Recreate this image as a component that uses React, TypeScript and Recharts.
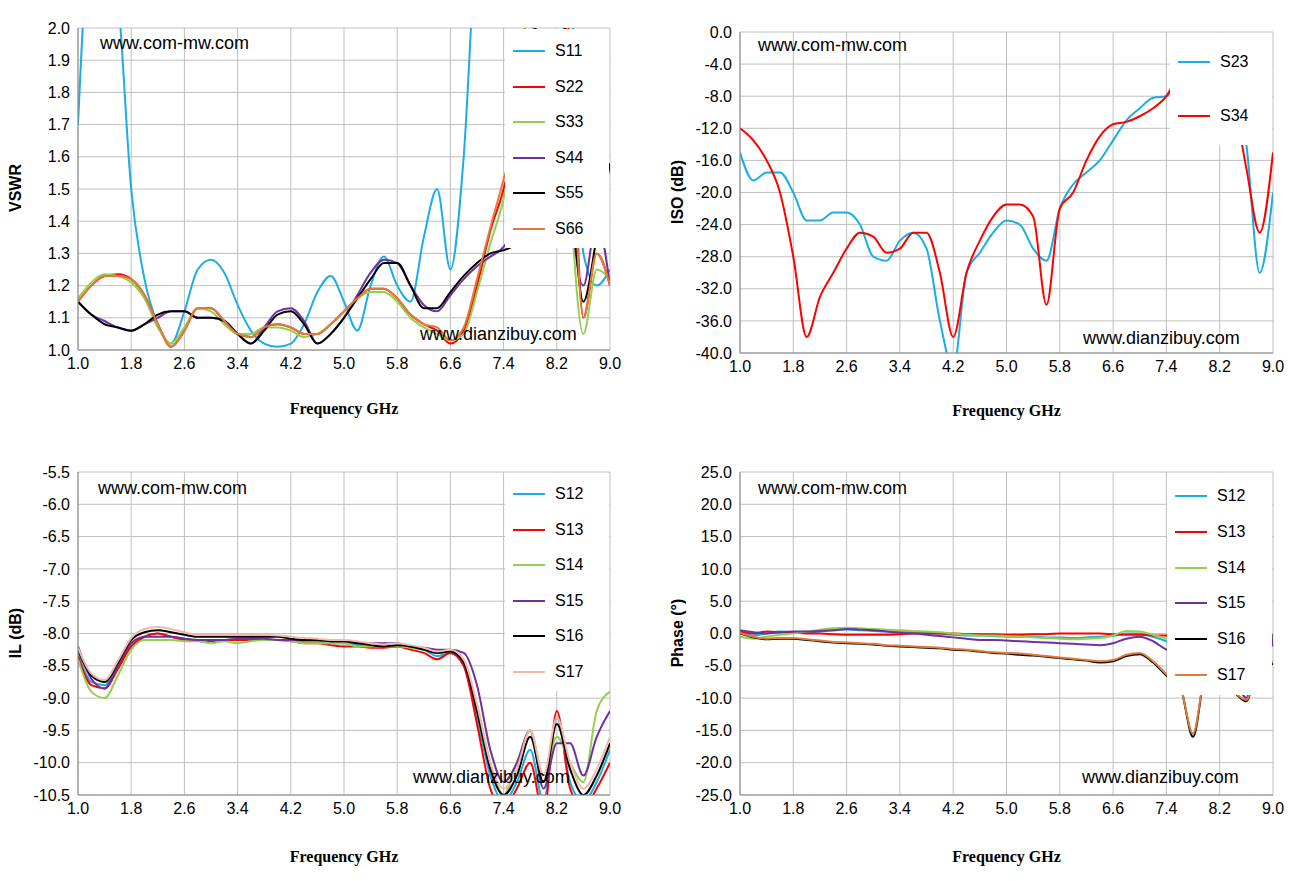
import { CartesianGrid, Line, LineChart, XAxis, YAxis } from 'recharts'

const freq = [1.0, 1.2, 1.4, 1.6, 1.8, 2.0, 2.2, 2.4, 2.6, 2.8, 3.0, 3.2, 3.4, 3.6, 3.8, 4.0, 4.2, 4.4, 4.6, 4.8, 5.0, 5.2, 5.4, 5.6, 5.8, 6.0, 6.2, 6.4, 6.6, 6.8, 7.0, 7.2, 7.4, 7.6, 7.8, 8.0, 8.2, 8.4, 8.6, 8.8, 9.0]
const freqTicks = [1.0, 1.8, 2.6, 3.4, 4.2, 5.0, 5.8, 6.6, 7.4, 8.2, 9.0]

// VSWR
const s11 = [1.7, 2.3, 2.3, 2.1, 1.5, 1.22, 1.08, 1.02, 1.12, 1.25, 1.28, 1.24, 1.14, 1.06, 1.02, 1.01, 1.02, 1.08, 1.18, 1.23, 1.15, 1.06, 1.2, 1.29, 1.2, 1.15, 1.35, 1.5, 1.25, 1.6, 2.3, 2.5, 2.5, 2.5, 2.5, 2.5, 2.5, 2.2, 1.3, 1.2, 1.25]
const s22 = [1.15, 1.2, 1.23, 1.235, 1.22, 1.17, 1.08, 1.01, 1.06, 1.13, 1.13, 1.09, 1.05, 1.04, 1.07, 1.08, 1.07, 1.05, 1.05, 1.08, 1.12, 1.16, 1.19, 1.19, 1.16, 1.11, 1.08, 1.06, 1.02, 1.06, 1.2, 1.37, 1.5, 1.7, 2.2, 2.5, 2.5, 1.9, 1.1, 1.3, 1.2]
const s33 = [1.16, 1.21, 1.235, 1.23, 1.21, 1.16, 1.07, 1.02, 1.07, 1.13, 1.12, 1.08, 1.05, 1.05, 1.07, 1.07, 1.06, 1.04, 1.05, 1.08, 1.12, 1.16, 1.18, 1.18, 1.15, 1.1, 1.07, 1.05, 1.03, 1.05, 1.18, 1.33, 1.47, 1.7, 2.2, 2.5, 2.5, 1.5, 1.05, 1.25, 1.22]
const s44 = [1.15, 1.11, 1.09, 1.07, 1.06, 1.08, 1.1, 1.12, 1.12, 1.1, 1.1, 1.09, 1.05, 1.02, 1.07, 1.12, 1.13, 1.09, 1.02, 1.05, 1.1, 1.17, 1.24, 1.28, 1.27, 1.2, 1.14, 1.12, 1.17, 1.22, 1.26, 1.29, 1.32, 1.4, 1.8, 2.5, 2.5, 1.5, 1.2, 1.4, 1.2]
const s55 = [1.15, 1.11, 1.08, 1.07, 1.06, 1.08, 1.11, 1.12, 1.12, 1.1, 1.1, 1.09, 1.05, 1.02, 1.06, 1.11, 1.12, 1.08, 1.02, 1.05, 1.1, 1.16, 1.22, 1.27, 1.27, 1.2, 1.13, 1.13, 1.18, 1.23, 1.27, 1.3, 1.31, 1.33, 1.6, 2.5, 2.5, 1.6, 1.15, 1.35, 1.58]
const s66 = [1.15, 1.2, 1.23, 1.23, 1.22, 1.17, 1.08, 1.01, 1.06, 1.13, 1.13, 1.09, 1.05, 1.04, 1.07, 1.08, 1.07, 1.05, 1.05, 1.08, 1.12, 1.16, 1.19, 1.19, 1.16, 1.11, 1.08, 1.07, 1.03, 1.07, 1.22, 1.38, 1.53, 1.7, 2.2, 2.5, 2.5, 1.8, 1.1, 1.3, 1.2]

// isolation
const s23 = [-15, -18.5, -17.5, -17.5, -20, -23.5, -23.5, -22.5, -22.5, -24, -28, -28.5, -26, -25, -27, -36, -42, -30, -27.5, -25, -23.5, -24, -27, -28.5, -22, -19, -17.5, -16, -13.5, -11, -9.5, -8.2, -8, -6, -4, -2, -2, -5, -14, -30, -20]
const s34 = [-12, -13.5, -16, -20, -28, -38, -33, -30, -27, -25, -25.5, -27.5, -27, -25, -25, -30, -38, -30, -26, -23, -21.5, -21.5, -23, -34, -22, -20, -16, -13, -11.5, -11.2, -10.5, -9.5, -8, -5, -3, -2, -3, -8, -17, -25, -15]

// insertion loss
const s12 = [-8.3, -8.75, -8.8, -8.5, -8.2, -8.05, -8.0, -8.05, -8.08, -8.1, -8.1, -8.1, -8.1, -8.08, -8.1, -8.1, -8.1, -8.12, -8.12, -8.15, -8.15, -8.18, -8.2, -8.2, -8.2, -8.22, -8.25, -8.35, -8.3, -8.5, -9.3, -10.2, -10.6, -10.3, -9.8, -10.6, -9.3, -10.3, -10.6, -10.3, -9.8]
const s13 = [-8.35, -8.8, -8.85, -8.55, -8.2, -8.05, -8.0, -8.05, -8.1, -8.1, -8.12, -8.1, -8.1, -8.1, -8.1, -8.1, -8.12, -8.15, -8.15, -8.18, -8.2, -8.2, -8.22, -8.22, -8.2, -8.25, -8.3, -8.4, -8.3, -8.5, -9.4, -10.4, -10.7, -10.4, -10.0, -10.8, -9.2, -10.4, -10.7, -10.4, -10.0]
const s14 = [-8.4, -8.9, -9.0, -8.65, -8.25, -8.1, -8.1, -8.1, -8.12, -8.12, -8.15, -8.12, -8.15, -8.12, -8.1, -8.1, -8.12, -8.15, -8.15, -8.15, -8.15, -8.2, -8.2, -8.2, -8.2, -8.22, -8.25, -8.3, -8.28, -8.45, -9.1, -10.0, -10.5, -10.0, -9.5, -10.2, -9.6, -10.0, -10.3, -9.2, -8.9]
const s15 = [-8.2, -8.7, -8.85, -8.5, -8.15, -8.05, -8.05, -8.05, -8.08, -8.1, -8.1, -8.1, -8.08, -8.08, -8.08, -8.1, -8.1, -8.1, -8.1, -8.12, -8.12, -8.15, -8.15, -8.15, -8.15, -8.2, -8.22, -8.25, -8.25, -8.3, -8.8, -9.8, -10.3, -10.0, -9.5, -10.4, -9.7, -9.7, -10.2, -9.6, -9.2]
const s16 = [-8.25, -8.65, -8.75, -8.45, -8.1, -7.98, -7.95, -7.98, -8.02, -8.05, -8.05, -8.05, -8.05, -8.05, -8.05, -8.05, -8.08, -8.1, -8.1, -8.12, -8.12, -8.15, -8.18, -8.2, -8.18, -8.2, -8.25, -8.3, -8.28, -8.45, -9.2, -10.1, -10.5, -10.2, -9.6, -10.3, -9.4, -10.1, -10.5, -10.2, -9.7]
const s17 = [-8.22, -8.62, -8.72, -8.42, -8.07, -7.93, -7.9, -7.93, -7.98, -8.02, -8.02, -8.02, -8.02, -8.02, -8.02, -8.03, -8.05, -8.07, -8.08, -8.1, -8.1, -8.12, -8.15, -8.17, -8.15, -8.18, -8.22, -8.28, -8.25, -8.4, -9.1, -10.0, -10.4, -10.1, -9.5, -10.2, -9.3, -10.0, -10.4, -10.1, -9.6]

// phase
const p12 = [0.2, -0.3, 0, 0.3, 0.2, 0.1, 0.3, 0.5, 0.6, 0.5, 0.4, 0.3, 0.3, 0.2, 0.2, 0, -0.2, -0.3, -0.3, -0.4, -0.5, -0.5, -0.5, -0.6, -0.6, -0.7, -0.6, -0.5, -0.4, 0.0, 0.0, -0.5, -1.2, -2, -5, -3, -3, -5, -8, -2, -0.5]
const p13 = [0.3, 0, 0.3, 0.2, 0.1, 0, 0, -0.1, -0.2, -0.2, -0.2, -0.2, -0.1, 0, 0, 0, 0, -0.1, -0.1, -0.1, -0.2, -0.2, -0.1, -0.1, 0, 0, 0, 0, -0.1, -0.2, -0.2, -0.3, -0.3, -1, -3, -2, -2, -4, -6, -0.2, -0.3]
const p14 = [-0.5, -0.8, -0.5, -0.2, 0, 0.3, 0.6, 0.8, 0.9, 0.8, 0.7, 0.6, 0.5, 0.4, 0.3, 0.2, 0, -0.2, -0.3, -0.3, -0.4, -0.5, -0.6, -0.7, -0.8, -0.9, -0.8, -0.7, -0.3, 0.4, 0.3, -0.2, -0.8, -2, -6, -3, -3, -6, -9, 2, -2]
const p15 = [0.5, 0.2, 0, 0.2, 0.3, 0.3, 0.4, 0.5, 0.7, 0.6, 0.5, 0.3, 0.1, 0, -0.2, -0.4, -0.6, -0.8, -1.0, -1.0, -1.1, -1.2, -1.3, -1.4, -1.5, -1.6, -1.7, -1.8, -1.5, -0.8, -0.5, -1.2, -2.5, -3, -8, -4, -4, -6, -10, 7.5, -2]
const p16 = [0, -0.6, -0.9, -0.8, -0.8, -1.0, -1.2, -1.4, -1.5, -1.6, -1.7, -1.9, -2.0, -2.1, -2.2, -2.3, -2.5, -2.6, -2.8, -3.0, -3.1, -3.3, -3.4, -3.6, -3.8, -4.0, -4.2, -4.5, -4.3, -3.5, -3.2, -4.5, -6.5, -8, -16, -6, -8, -9, -10.5, -4, -4.8]
const p17 = [0.1, -0.5, -0.8, -0.7, -0.7, -0.9, -1.1, -1.3, -1.4, -1.5, -1.6, -1.8, -1.9, -2.0, -2.1, -2.2, -2.4, -2.5, -2.7, -2.9, -3.0, -3.1, -3.3, -3.5, -3.7, -3.9, -4.1, -4.3, -4.1, -3.3, -3.0, -4.3, -6.3, -8, -15.5, -6, -8, -9, -10.3, -3.5, -4.5]

const CYAN = '#1CADE4', RED = '#FF0000', GREEN = '#92D050', PURPLE = '#7030A0', BLACK = '#000000', ORANGE = '#E07B39', PINK = '#F4B8A8'

type Series = { name: string; values: number[]; color: string }

const vswrSeries: Series[] = [
  { name: 'S11', values: s11, color: CYAN }, { name: 'S22', values: s22, color: RED }, { name: 'S33', values: s33, color: GREEN },
  { name: 'S44', values: s44, color: PURPLE }, { name: 'S55', values: s55, color: BLACK }, { name: 'S66', values: s66, color: ORANGE },
]
const isoSeries: Series[] = [{ name: 'S23', values: s23, color: CYAN }, { name: 'S34', values: s34, color: RED }]
const ilSeries: Series[] = [
  { name: 'S12', values: s12, color: CYAN }, { name: 'S13', values: s13, color: RED }, { name: 'S14', values: s14, color: GREEN },
  { name: 'S15', values: s15, color: PURPLE }, { name: 'S16', values: s16, color: BLACK }, { name: 'S17', values: s17, color: PINK },
]
const phaseSeries: Series[] = [
  { name: 'S12', values: p12, color: CYAN }, { name: 'S13', values: p13, color: RED }, { name: 'S14', values: p14, color: GREEN },
  { name: 'S15', values: p15, color: PURPLE }, { name: 'S16', values: p16, color: BLACK }, { name: 'S17', values: p17, color: ORANGE },
]

const range = (a: number, b: number, s: number) => { const r: number[] = []; for (let v = a; v <= b + 1e-9; v += s) r.push(+v.toFixed(2)); return r }

type PanelProps = {
  series: Series[]; rect: [number, number, number, number]; domain: [number, number]; step: number
  ylabel: string; xlabelY: number; wm1: [number, number]; wm2: [number, number]; legendTop: number; legendStep: number; legendLeft: number
}

function Panel({ series, rect, domain, step, ylabel, xlabelY, wm1, wm2, legendTop, legendStep, legendLeft }: PanelProps) {
  const [l, t, r, b] = rect
  const data = freq.map((f, i) => { const row: Record<string, number> = { f }; series.forEach(s => { row[s.name] = s.values[i] }); return row })
  const yTicks = range(domain[0], domain[1], step)
  const font = { fontFamily: 'Liberation Sans, Arial, sans-serif', fontSize: 16, fill: '#000' }
  return (
    <>
      <div style={{ position: 'absolute', left: 0, top: 0 }}>
        <LineChart width={1303} height={881} data={data} margin={{ top: t, left: l - 70, right: 1303 - r, bottom: 881 - b - 30 }}>
          <CartesianGrid stroke="#BFBFBF" horizontalValues={yTicks} verticalValues={freqTicks} />
          <XAxis dataKey="f" type="number" domain={[1, 9]} ticks={freqTicks} tickFormatter={v => v.toFixed(1)} tick={font} tickLine={false} axisLine={{ stroke: '#888' }} height={30} allowDataOverflow />
          <YAxis type="number" domain={domain} ticks={yTicks} tickFormatter={v => v.toFixed(1)} tick={font} tickLine={false} axisLine={{ stroke: '#888' }} width={70} allowDataOverflow />
          {series.map(s => <Line key={s.name} dataKey={s.name} stroke={s.color} strokeWidth={2} dot={false} type="monotone" isAnimationActive={false} />)}
        </LineChart>
      </div>
      <div style={{ position: 'absolute', left: legendLeft, top: t + 1, width: r - legendLeft - 1, height: legendTop - t + legendStep * (series.length - 0.5), background: '#fff' }}>
        {series.map((s, i) => (
          <div key={s.name} style={{ position: 'absolute', top: legendTop - t - 11 + i * legendStep, left: 8, display: 'flex', alignItems: 'center', fontFamily: 'Liberation Sans, Arial, sans-serif', fontSize: 16 }}>
            <div style={{ width: 32, height: 2, background: s.color, marginRight: 10 }} />{s.name}
          </div>
        ))}
      </div>
      <div style={{ position: 'absolute', left: wm1[0], top: wm1[1] - 12, fontFamily: 'Liberation Sans, Arial, sans-serif', fontSize: 18 }}>www.com-mw.com</div>
      <div style={{ position: 'absolute', left: wm2[0], top: wm2[1] - 12, fontFamily: 'Liberation Sans, Arial, sans-serif', fontSize: 18 }}>www.dianzibuy.com</div>
      <div style={{ position: 'absolute', left: (l + r) / 2 - 100, width: 200, textAlign: 'center', top: xlabelY - 10, fontFamily: 'Liberation Serif, serif', fontWeight: 'bold', fontSize: 16 }}>Frequency GHz</div>
      <div style={{ position: 'absolute', left: l - 62 - 100, width: 200, textAlign: 'center', top: (t + b) / 2 - 10, transform: 'rotate(-90deg)', fontFamily: 'Liberation Sans, Arial, sans-serif', fontWeight: 'bold', fontSize: 16 }}>{ylabel}</div>
    </>
  )
}

export default function App() {
  return (
    <div style={{ position: 'absolute', left: 0, top: 0, width: 1303, height: 881, background: '#fff' }}>
      <Panel series={vswrSeries} rect={[78, 28, 610, 350]} domain={[1, 2]} step={0.1} ylabel="VSWR" xlabelY={410} wm1={[100, 45]} wm2={[420, 336]} legendTop={52} legendStep={35.5} legendLeft={505} />
      <Panel series={isoSeries} rect={[740, 32, 1273, 353]} domain={[-40, 0]} step={4} ylabel="ISO (dB)" xlabelY={412} wm1={[758, 47]} wm2={[1083, 340]} legendTop={63} legendStep={54} legendLeft={1170} />
      <Panel series={ilSeries} rect={[78, 472, 610, 795]} domain={[-10.5, -5.5]} step={0.5} ylabel="IL (dB)" xlabelY={858} wm1={[98, 490]} wm2={[413, 779]} legendTop={495} legendStep={35.5} legendLeft={505} />
      <Panel series={phaseSeries} rect={[740, 472, 1273, 795]} domain={[-25, 25]} step={5} ylabel="Phase (°)" xlabelY={858} wm1={[758, 490]} wm2={[1082, 779]} legendTop={497} legendStep={35.8} legendLeft={1167} />
    </div>
  )
}
